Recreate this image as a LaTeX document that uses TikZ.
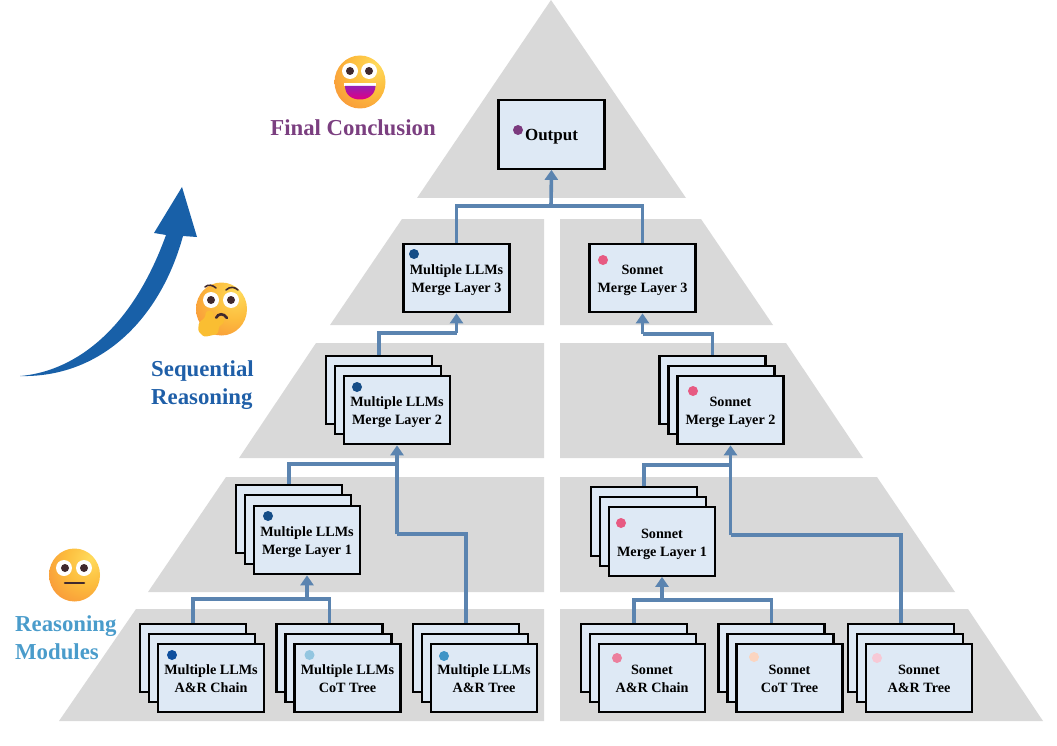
\documentclass[tikz,border=0pt]{standalone}
\usepackage{fontspec}
\setmainfont{Liberation Serif}
\usetikzlibrary{arrows.meta,shadings}
\definecolor{layergray}{HTML}{D9D9D9}
\definecolor{boxfill}{HTML}{DEE9F5}
\definecolor{connblue}{HTML}{5B84B0}
\definecolor{arrowblue}{HTML}{1860A8}
\definecolor{mauve}{HTML}{7B3F80}
\definecolor{seqblue}{HTML}{1F5FA8}
\definecolor{modblue}{HTML}{4A9CCB}
\definecolor{pupil}{HTML}{40292E}
\definecolor{handyellow}{HTML}{FABE32}
\pgfdeclareradialshading{emo}{\pgfpoint{16bp}{16bp}}{rgb(0bp)=(1,0.86,0.36);rgb(22bp)=(0.99,0.74,0.24);rgb(48bp)=(0.97,0.55,0.22);rgb(62bp)=(0.96,0.5,0.45);rgb(70bp)=(0.97,0.5,0.6);rgb(100bp)=(0.97,0.5,0.6)}
\tikzset{
  layer/.style={fill=layergray,draw=none},
  card/.style={draw=black,line width=2.2pt,fill=boxfill,minimum width=106pt,minimum height=68.5pt,inner sep=0pt,
    font=\fontsize{14.2}{18}\selectfont\bfseries},
  dotmark/.style={circle,inner sep=0pt,minimum size=10pt,draw=none},
  conn/.style={draw=connblue,line width=3.6pt},
  connarrow/.style={conn,-{Triangle[width=13pt,length=10pt]}},
  heading/.style={font=\fontsize{22.8}{28}\selectfont\bfseries,align=left,inner sep=0pt},
  face/.style={shading=emo,draw=none},
  eyewhite/.style={fill=white,draw=none},
  eyeball/.style={fill=pupil,draw=none}
}
\newcommand{\lns}[2]{\raisebox{-5.8pt}[0pt][0pt]{\begin{tabular}{@{}c@{}}#1\\#2\end{tabular}}}
% name, centre x, centre y of front card, x and y offset of back card, text
\newcommand{\cardstack}[6]{%
  \node[card] (#1back) at (#2+#4,#3+#5) {};
  \node[card] (#1mid) at (#2+#4/2,#3+#5/2) {};
  \node[card] (#1) at (#2,#3) {#6};
}
\begin{document}
\begin{tikzpicture}[x=1pt,y=-1pt]
\useasboundingbox (0,0) rectangle (1057,746);
% pyramid layers
\fill[layer] (551,0) -- (686,198) -- (417,198) -- cycle;
\fill[layer] (402,219) -- (544,219) -- (544,325) -- (330,325) -- cycle;
\fill[layer] (560,219) -- (701,219) -- (773,325) -- (560,325) -- cycle;
\fill[layer] (316,343) -- (544,343) -- (544,458) -- (239,458) -- cycle;
\fill[layer] (560,343) -- (786,343) -- (863,458) -- (560,458) -- cycle;
\fill[layer] (226,477) -- (544,477) -- (544,592) -- (148,592) -- cycle;
\fill[layer] (560,477) -- (877,477) -- (955,592) -- (560,592) -- cycle;
\fill[layer] (136,609) -- (544,609) -- (544,721) -- (59,721) -- cycle;
\fill[layer] (560,609) -- (968,609) -- (1043,721) -- (560,721) -- cycle;
% junctions
\coordinate (jout) at (551,206);
\coordinate (jmtwo) at (397,464);
\coordinate (jmtree) at (397,534);
\coordinate (jmone) at (307,599);
\coordinate (jstwo) at (730.5,465);
\coordinate (jstree) at (730.5,535);
\coordinate (jsone) at (662,600);
\coordinate (jmthree) at (456.5,333);
\coordinate (jsthree) at (642.5,334);
% cards
\node[card,font=\fontsize{17}{20}\selectfont\bfseries,execute at begin node={\rule{0pt}{16.5pt}}] (out) at (551.5,134.5) {Output};
\node[card] (mthree) at (456.5,278) {\lns{Multiple LLMs}{Merge Layer 3}};
\node[card] (sthree) at (642.5,278) {\lns{Sonnet}{Merge Layer 3}};
\cardstack{mtwo}{397}{410}{-18}{-20}{\lns{Multiple LLMs}{Merge Layer 2}}
\cardstack{stwo}{730.5}{410}{-18}{-20}{\lns{Sonnet}{Merge Layer 2}}
\cardstack{mone}{307}{540}{-18}{-21}{\lns{Multiple LLMs}{Merge Layer 1}}
\cardstack{sone}{662}{541.5}{-18}{-20}{\lns{Sonnet}{Merge Layer 1}}
\cardstack{mchain}{211}{678}{-18}{-20}{\lns{Multiple LLMs}{A\&R Chain}}
\cardstack{mcot}{347.5}{678}{-18}{-20}{\lns{Multiple LLMs}{CoT Tree}}
\cardstack{mtree}{484}{678}{-18}{-20}{\lns{Multiple LLMs}{A\&R Tree}}
\cardstack{schain}{652}{678}{-18}{-20}{\lns{Sonnet}{A\&R Chain}}
\cardstack{scot}{789.5}{678}{-18}{-20}{\lns{Sonnet}{CoT Tree}}
\cardstack{stree}{919}{678}{-18}{-20}{\lns{Sonnet}{A\&R Tree}}
% connectors
\draw[conn] (mthree.north) |- (jout);
\draw[conn] (sthree.north) |- (jout);
\draw[connarrow] (jout) -- (out.south);
\draw[conn] (mtwoback.north) |- (jmthree);
\draw[connarrow] (jmthree) -- (mthree.south);
\draw[conn] (stwoback.north) |- (jsthree);
\draw[connarrow] (jsthree) -- (sthree.south);
\draw[conn] (moneback.north) |- (jmtwo);
\draw[conn] (mtreeback.north) |- (jmtree);
\draw[connarrow] (jmtree) -- (mtwo.south);
\draw[conn] (soneback.north) |- (jstwo);
\draw[conn] (streeback.north) |- (jstree);
\draw[connarrow] (jstree) -- (stwo.south);
\draw[conn] (mchainback.north) |- (jmone);
\draw[conn] (mcotback.north) |- (jmone);
\draw[connarrow] (jmone) -- (mone.south);
\draw[conn] (schainback.north) |- (jsone);
\draw[conn] (scotback.north) |- (jsone);
\draw[connarrow] (jsone) -- (sone.south);
% dots
\node[dotmark,fill={rgb,255:red,123;green,58;blue,126}] (dout) at (518,130) {};
\node[dotmark,fill={rgb,255:red,21;green,77;blue,135}] (dmthree) at (414,254) {};
\node[dotmark,fill={rgb,255:red,231;green,90;blue,130}] (dsthree) at (603,260) {};
\node[dotmark,fill={rgb,255:red,21;green,77;blue,135}] (dmtwo) at (357,387) {};
\node[dotmark,fill={rgb,255:red,231;green,90;blue,130}] (dstwo) at (693,391) {};
\node[dotmark,fill={rgb,255:red,21;green,77;blue,135}] (dmone) at (268,516) {};
\node[dotmark,fill={rgb,255:red,231;green,90;blue,130}] (dsone) at (621,523) {};
\node[dotmark,fill={rgb,255:red,14;green,79;blue,158}] (dmchain) at (172,655) {};
\node[dotmark,fill={rgb,255:red,147;green,198;blue,224}] (dmcot) at (309.5,655) {};
\node[dotmark,fill={rgb,255:red,63;green,148;blue,198}] (dmtree) at (444,656) {};
\node[dotmark,fill={rgb,255:red,236;green,127;blue,157}] (dschain) at (617,658) {};
\node[dotmark,fill={rgb,255:red,251;green,213;blue,192}] (dscot) at (754,657) {};
\node[dotmark,fill={rgb,255:red,247;green,201;blue,214}] (dstree) at (877,658) {};
% headings
\node[heading,text=mauve,anchor=center] (hfinal) at (353,128) {Final Conclusion};
\node[heading,text=seqblue,anchor=west] (hseq) at (151,385) {Sequential\\Reasoning};
\node[heading,text=modblue,anchor=west] (hmod) at (15,637.5) {Reasoning\\Modules};
% big curved arrow
\fill[arrowblue] (20,376) .. controls (70,372) and (130,335) .. (166,235)
  -- (154,233) -- (182,187) -- (197,237) -- (183,236)
  .. controls (160,320) and (100,378) .. (20,376) -- cycle;
% happy face
\shade[face] (360,82) ellipse [x radius=25.5,y radius=26.5];
\fill[eyewhite] (350,71) circle (8);
\fill[eyewhite] (369,71) circle (8);
\fill[eyeball] (350,71) circle (4);
\fill[eyeball] (369,71) circle (4);
\fill[white] (344,83) -- (376,83) -- (376,86) -- (344,86) -- cycle;
\shade[top color={rgb,255:red,150;green,30;blue,180},bottom color={rgb,255:red,225;green,0;blue,130}]
  (345,86) -- (375.5,86) .. controls (375,95) and (368,99.5) .. (360,99.5) .. controls (352,99.5) and (345,95) .. (345,86) -- cycle;
% thinking face
\shade[face] (221.5,309) ellipse [x radius=25.5,y radius=26.5];
\fill[eyewhite] (211,300) circle (8);
\fill[eyewhite] (231,300) circle (8);
\fill[eyeball] (211,300) circle (4);
\fill[eyeball] (231,300) circle (4);
\draw[pupil,line width=1.6pt,line cap=round] (205,287) .. controls (208,284) and (213,285) .. (216,288);
\draw[pupil,line width=1.6pt,line cap=round] (226,290) .. controls (230,286) and (235,287) .. (238,290);
\draw[pupil,line width=2.6pt,line cap=round] (216,318) .. controls (218,313) and (224,313) .. (227,318);
\fill[handyellow,rounded corners=2.5pt] (206,311) -- (213,311) -- (214,319) -- (224,318) -- (224,323) -- (219,326) -- (218,334) -- (204,337) -- (198,331) -- (199,322) -- (205,318) -- cycle;
% neutral face
\shade[face] (74.5,575) ellipse [x radius=25.5,y radius=26.5];
\fill[eyewhite] (64,568) circle (8);
\fill[eyewhite] (84,568) circle (8);
\fill[eyeball] (65,568) circle (4);
\fill[eyeball] (84,568) circle (4);
\draw[pupil,line width=2.6pt,line cap=round] (65,583) -- (84,583);
\end{tikzpicture}
\end{document}
